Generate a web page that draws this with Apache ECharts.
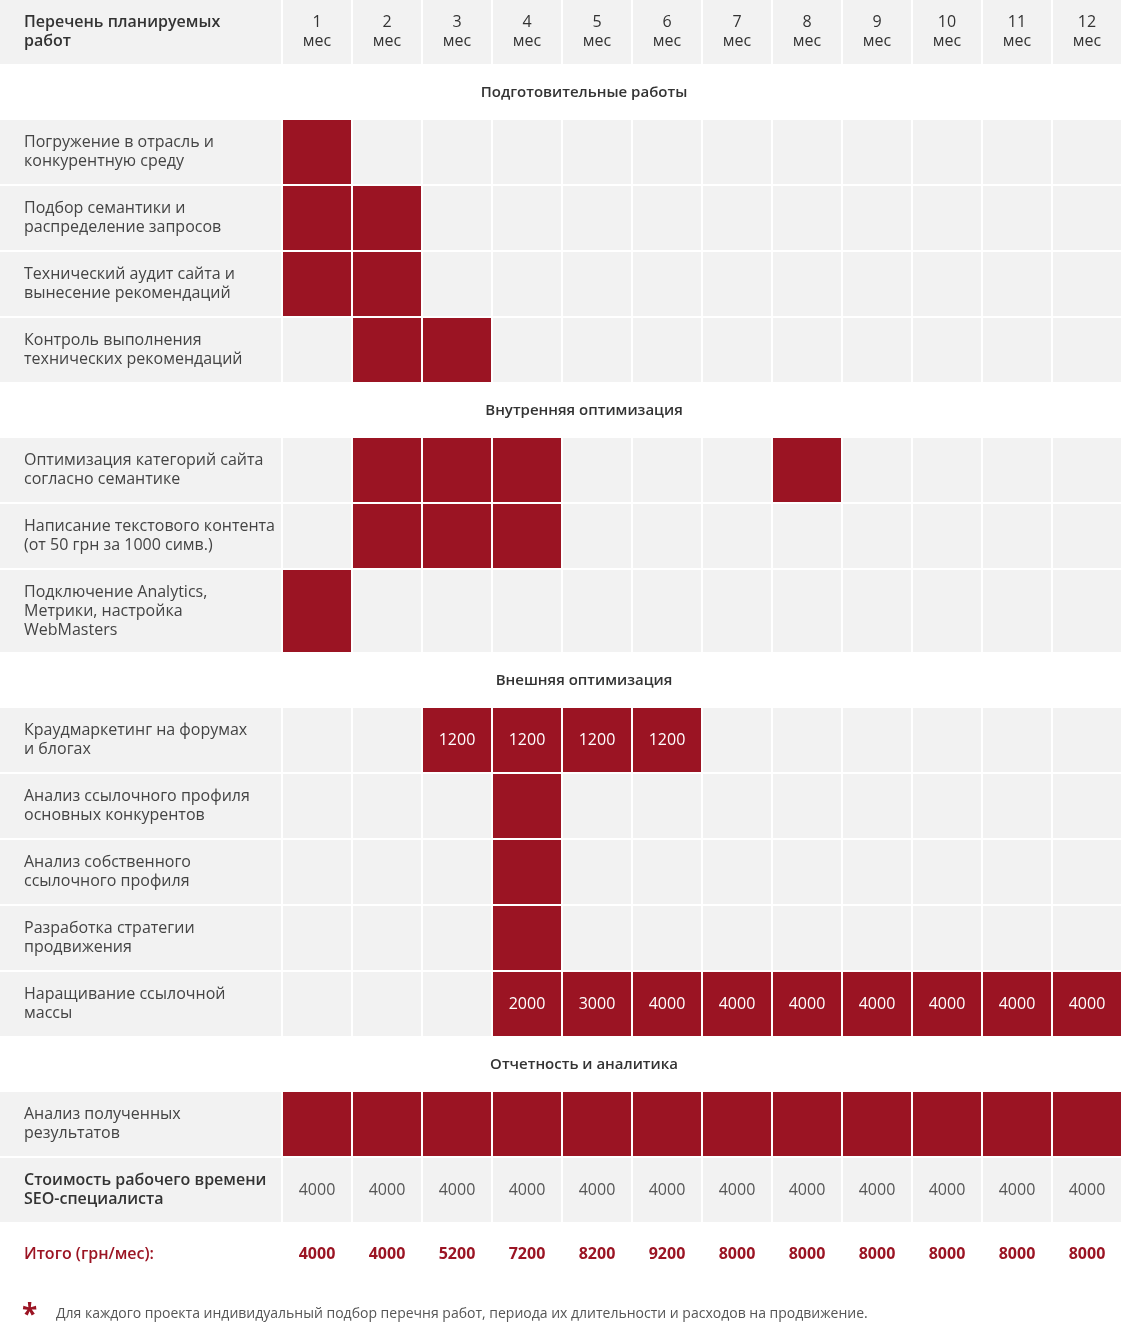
<!DOCTYPE html>
<html>
<head>
<meta charset="utf-8">
<script src="https://cdn.jsdelivr.net/npm/echarts@6/dist/echarts.min.js"></script>
<style>
  html, body { margin: 0; padding: 0; background: #fff; }
  #chart { width: 1122px; height: 1340px; }
</style>
</head>
<body>
<div id="chart"></div>
<script>
// --- data ---
var months = ['1', '2', '3', '4', '5', '6', '7', '8', '9', '10', '11', '12'];
var sections = ['Подготовительные работы', 'Внутренняя оптимизация', 'Внешняя оптимизация', 'Отчетность и аналитика'];
var taskNames = [
    'Погружение в отрасль и\nконкурентную среду',
    'Подбор семантики и\nраспределение запросов',
    'Технический аудит сайта и\nвынесение рекомендаций',
    'Контроль выполнения\nтехнических рекомендаций',
    'Оптимизация категорий сайта\nсогласно семантике',
    'Написание текстового контента\n(от 50 грн за 1000 симв.)',
    'Подключение Analytics,\nМетрики, настройка\nWebMasters',
    'Краудмаркетинг на форумах\nи блогах',
    'Анализ ссылочного профиля\nосновных конкурентов',
    'Анализ собственного\nссылочного профиля',
    'Разработка стратегии\nпродвижения',
    'Наращивание ссылочной\nмассы',
    'Анализ полученных\nрезультатов'
];
var taskSection = [0, 0, 0, 0, 1, 1, 1, 2, 2, 2, 2, 2, 3];
var taskMonths = [
    [1], [1, 2], [1, 2], [2, 3],
    [2, 3, 4, 8], [2, 3, 4], [1],
    [3, 4, 5, 6], [4], [4], [4], [4, 5, 6, 7, 8, 9, 10, 11, 12],
    [1, 2, 3, 4, 5, 6, 7, 8, 9, 10, 11, 12]
];
var taskValues = [
    null, null, null, null,
    null, null, null,
    [1200, 1200, 1200, 1200], null, null, null,
    [2000, 3000, 4000, 4000, 4000, 4000, 4000, 4000, 4000],
    null
];
var costLabel = 'Стоимость рабочего времени\nSEO-специалиста';
var costValues = [4000, 4000, 4000, 4000, 4000, 4000, 4000, 4000, 4000, 4000, 4000, 4000];
var totalLabel = 'Итого (грн/мес):';
var totalValues = [4000, 4000, 5200, 7200, 8200, 9200, 8000, 8000, 8000, 8000, 8000, 8000];
var footnote = 'Для каждого проекта индивидуальный подбор перечня работ, периода их длительности и расходов на продвижение.';

// --- layout ---
var RED = '#9b1423', GRAY = '#f2f2f2';
var FONT = '"Open Sans", "Noto Sans", sans-serif';
var COL0 = 283, COLW = 70, GAP = 2;
var ROW_H = 66, TALL_H = 84, SEC_H = 54;

var cells = [];
function colX(c) { return COL0 + c * COLW; }
function add(x0, y0, x1, y1, fill, text, style) {
    cells.push({x0: x0, y0: y0, x1: x1, y1: y1, fill: fill, text: text, style: style || {}});
}

var y = 0;
// header
add(0, y, COL0 - GAP, y + ROW_H - GAP, GRAY, 'Перечень планируемых\nработ',
    {x: 24, align: 'left', fontWeight: 600, color: '#333'});
months.forEach(function (m, c) {
    add(colX(c), y, colX(c) + COLW - GAP, y + ROW_H - GAP, GRAY, m + '\nмес',
        {fontWeight: 500, color: '#333'});
});
y += ROW_H;

var lastSec = -1;
taskNames.forEach(function (name, t) {
    if (taskSection[t] !== lastSec) {
        lastSec = taskSection[t];
        add(0, y, 1122, y + SEC_H, null, sections[lastSec], {x: 584, fontWeight: 600, fontSize: 15, color: '#333'});
        y += SEC_H;
    }
    var h = name.split('\n').length > 2 ? TALL_H : ROW_H;
    add(0, y, COL0 - GAP, y + h - GAP, GRAY, name, {x: 24, align: 'left', color: '#444'});
    months.forEach(function (m, c) {
        var idx = taskMonths[t].indexOf(c + 1);
        var on = idx >= 0;
        var txt = on && taskValues[t] ? String(taskValues[t][idx]) : '';
        add(colX(c), y, colX(c) + COLW - GAP, y + h - GAP, on ? RED : GRAY, txt, {color: '#fff'});
    });
    y += h;
});

// cost row
add(0, y, COL0 - GAP, y + ROW_H - GAP, GRAY, costLabel, {x: 24, align: 'left', fontWeight: 600, color: '#333'});
costValues.forEach(function (v, c) {
    add(colX(c), y, colX(c) + COLW - GAP, y + ROW_H - GAP, GRAY, String(v), {color: '#555'});
});
y += ROW_H;
// totals
add(0, y, COL0 - GAP, y + 60, null, totalLabel, {x: 24, align: 'left', fontWeight: 600, color: RED});
totalValues.forEach(function (v, c) {
    add(colX(c), y, colX(c) + COLW - GAP, y + 60, null, String(v), {fontWeight: 700, color: RED});
});

var myChart = echarts.init(document.getElementById('chart'));
var option = {
    animation: false,
    grid: {left: 0, right: 0, top: 0, bottom: 0},
    xAxis: {type: 'value', min: 0, max: 1122, show: false},
    yAxis: {type: 'value', min: 0, max: 1340, inverse: true, show: false},
    series: [{
        type: 'custom',
        data: cells.map(function (c, i) { return [c.x0, c.y0, i]; }),
        renderItem: function (params, api) {
            var c = cells[params.dataIndex];
            var p0 = api.coord([c.x0, c.y0]);
            var p1 = api.coord([c.x1, c.y1]);
            var s = c.style;
            var children = [];
            if (c.fill) {
                children.push({type: 'rect', shape: {x: p0[0], y: p0[1], width: p1[0] - p0[0], height: p1[1] - p0[1]},
                    style: {fill: c.fill}});
            }
            if (c.text) {
                var tx = s.x != null ? api.coord([s.x, 0])[0] : (p0[0] + p1[0]) / 2;
                children.push({type: 'text', x: tx, y: (p0[1] + p1[1]) / 2,
                    style: {text: c.text, align: s.align || 'center', verticalAlign: 'middle',
                        font: (s.fontWeight || 400) + ' ' + (s.fontSize || 16) + 'px ' + FONT,
                        lineHeight: 19, fill: s.color}});
            }
            return {type: 'group', children: children};
        }
    }],
    graphic: [
        {type: 'text', left: 22, top: 1302, style: {text: '*', font: '700 28px ' + FONT, fill: RED}},
        {type: 'text', left: 56, top: 1307, style: {text: footnote, font: '14px ' + FONT, fill: '#555'}}
    ]
};
myChart.setOption(option);
</script>
</body>
</html>
